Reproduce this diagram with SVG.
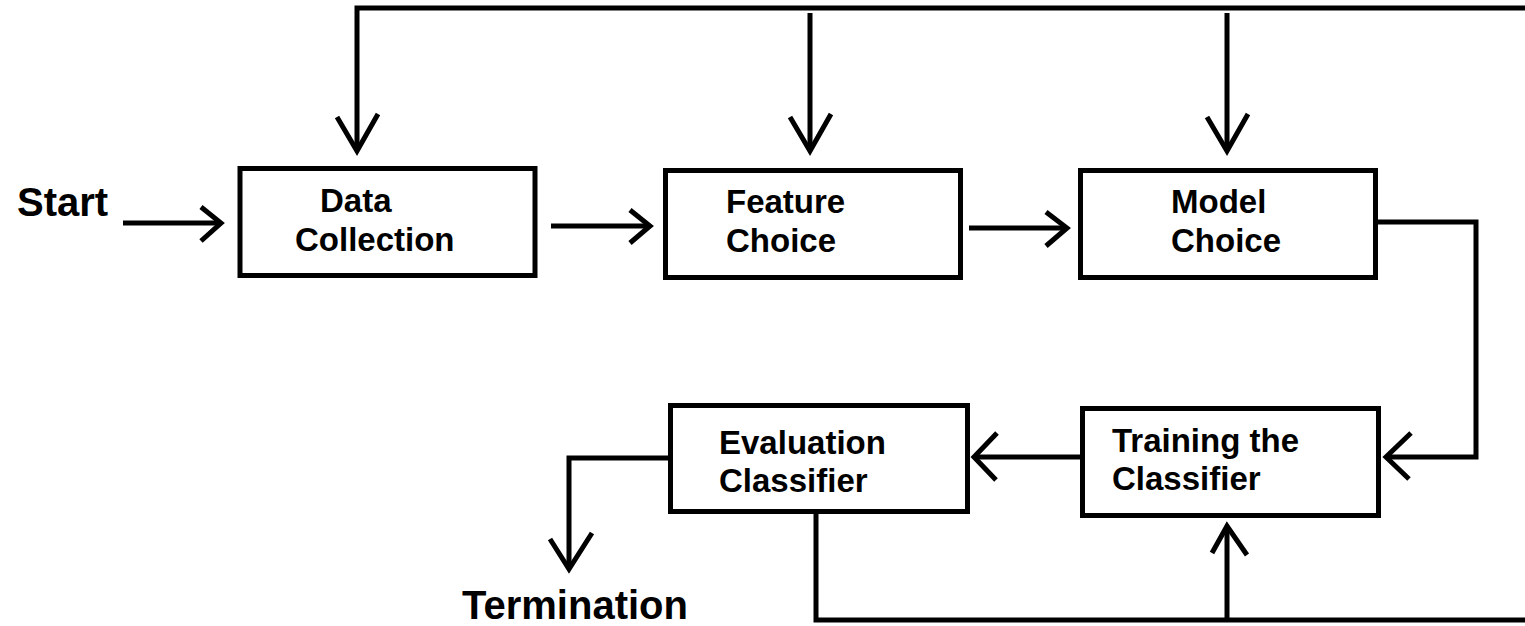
<svg xmlns="http://www.w3.org/2000/svg" width="1525" height="626" viewBox="0 0 1525 626">
<style>
.box{fill:#fff;stroke:#000;stroke-width:5}
.ln{fill:none;stroke:#000;stroke-width:5}
.hd{fill:none;stroke:#000;stroke-width:5;stroke-linejoin:miter}
text{font-family:"Liberation Sans",Arial,sans-serif;font-weight:bold;fill:#000}
.lbl{font-size:33px}
</style>
<rect width="1525" height="626" fill="#fff"/>
<g id="connectors">
<path class="ln" d="M357,150 V8 H1525"/>
<path class="ln" d="M810,13 V150"/>
<path class="ln" d="M1227,13 V150"/>
<polyline class="hd" points="337,117 357,151 378,114"/>
<polyline class="hd" points="790,117 810,151 831,114"/>
<polyline class="hd" points="1207,117 1227,151 1248,114"/>
<path class="ln" d="M123,223 H220"/>
<polyline class="hd" points="201,207 221,223 201,241"/>
<path class="ln" d="M551,226 H649"/>
<polyline class="hd" points="630,210 650,226 630,243"/>
<path class="ln" d="M969,228 H1067"/>
<polyline class="hd" points="1046,212 1067,228 1046,246"/>
<path class="ln" d="M1378,222 H1476 V457 H1386"/>
<polyline class="hd" points="1411,433 1386,457 1409,479"/>
<path class="ln" d="M1080,457 H974"/>
<polyline class="hd" points="997,433 974,457 996,480"/>
<path class="ln" d="M668,458 H569 V568"/>
<polyline class="hd" points="550,539 569,569 592,533"/>
<path class="ln" d="M816,514 V620 H1525"/>
<path class="ln" d="M1227,618 V526"/>
<polyline class="hd" points="1212,553 1227,526 1247,555"/>
</g>
<g id="start"><text x="17" y="216" font-size="40">Start</text></g>
<g id="data-collection">
<rect class="box" x="240" y="168.5" width="295" height="107"/>
<text class="lbl" x="320" y="212">Data</text>
<text class="lbl" x="295" y="251">Collection</text>
</g>
<g id="feature-choice">
<rect class="box" x="665.5" y="170.5" width="295" height="107"/>
<text class="lbl" x="726" y="213">Feature</text>
<text class="lbl" x="726" y="252">Choice</text>
</g>
<g id="model-choice">
<rect class="box" x="1080.5" y="170.5" width="295" height="107"/>
<text class="lbl" x="1171" y="213">Model</text>
<text class="lbl" x="1171" y="252">Choice</text>
</g>
<g id="training">
<rect class="box" x="1082.5" y="408.5" width="296" height="107"/>
<text class="lbl" x="1112" y="452">Training the</text>
<text class="lbl" x="1112" y="490">Classifier</text>
</g>
<g id="evaluation">
<rect class="box" x="670.5" y="405.5" width="297" height="106"/>
<text class="lbl" x="719" y="454">Evaluation</text>
<text class="lbl" x="719" y="492">Classifier</text>
</g>
<g id="termination"><text x="462" y="619" font-size="40">Termination</text></g>
</svg>
